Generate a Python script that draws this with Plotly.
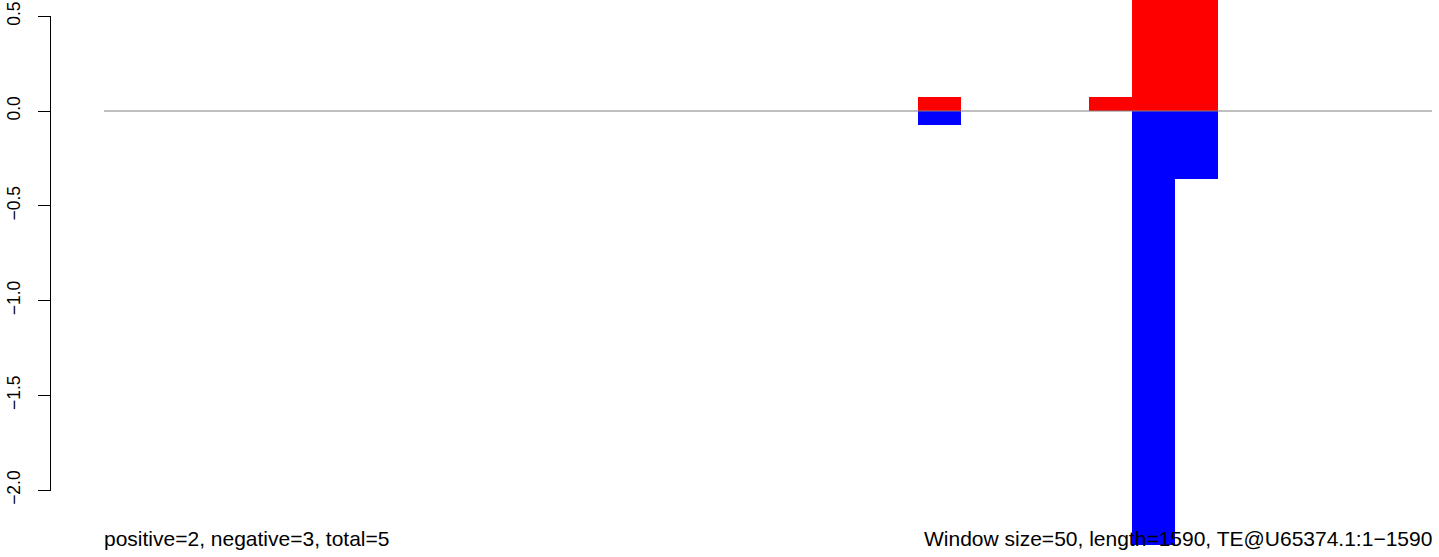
import plotly.graph_objects as go

# ---- data ----
window_size = 50
seq_length = 1590
n_full_windows = 31
window_starts = [950, 1150, 1200, 1250]
positive_vals = [0.074, 0.074, 0.60, 0.60]
negative_vals = [-0.075, 0.0, -2.30, -0.36]
ytick_vals = [-2.0, -1.5, -1.0, -0.5, 0.0, 0.5]
ytick_text = ["\u22122.0", "\u22121.5", "\u22121.0", "\u22120.5", "0.0", "0.5"]
left_note = "positive=2, negative=3, total=5"
right_note = "Window size=50, length=1590, TE@U65374.1:1\u22121590"

W, H = 1439, 557
PLOT_L, PLOT_R = 104, 1432
PLOT_B = 545
FONT = "Liberation Sans, Arial, sans-serif"

centers = [s + window_size / 2 for s in window_starts]

fig = go.Figure()
fig.add_trace(go.Bar(x=centers, y=positive_vals, width=[window_size] * len(centers),
                     marker=dict(color="#FF0000", line=dict(width=0)), showlegend=False,
                     hoverinfo="skip"))
fig.add_trace(go.Bar(x=centers, y=negative_vals, width=[window_size] * len(centers),
                     marker=dict(color="#0000FF", line=dict(width=0)), showlegend=False,
                     hoverinfo="skip"))

# y range from pixel geometry: 0 at ~111px, 189.6 px per unit, plot from 0 to 545 px
px_per_unit = 189.6
zero_px = 111
y_top = zero_px / px_per_unit
y_bot = -(PLOT_B - zero_px) / px_per_unit

fig.update_layout(
    width=W, height=H,
    margin=dict(l=0, r=0, t=0, b=H - PLOT_B, pad=0),
    plot_bgcolor="white", paper_bgcolor="white",
    barmode="overlay", bargap=0,
    showlegend=False,
    font=dict(family=FONT, color="black"),
    xaxis=dict(domain=[PLOT_L / W, PLOT_R / W], range=[0, n_full_windows * window_size],
               visible=False, showgrid=False, zeroline=False, fixedrange=True),
    yaxis=dict(range=[y_bot, y_top], anchor="free", position=50.5 / W,
               tickvals=ytick_vals, ticktext=ytick_text, tickangle=-90,
               ticks="outside", ticklen=13, tickwidth=1, tickcolor="black",
               ticklabelstandoff=11,
               tickfont=dict(family=FONT, size=17.5, color="black"),
               showline=False, showgrid=False, zeroline=False, automargin=False),
)

# axis line spanning tick range only (R style)
fig.add_shape(type="line", xref="paper", yref="y", x0=50.5 / W, x1=50.5 / W,
              y0=min(ytick_vals), y1=max(ytick_vals), line=dict(color="black", width=1))
# zero line across plot region
fig.add_shape(type="line", xref="paper", yref="y", x0=PLOT_L / W, x1=PLOT_R / W,
              y0=0, y1=0, line=dict(color="#808080", width=1.2), layer="above")

fig.add_annotation(text=left_note, xref="paper", yref="paper", x=PLOT_L / W, y=(PLOT_B - 538.5) / PLOT_B,
                   xanchor="left", yanchor="middle", showarrow=False, xshift=-2,
                   font=dict(family=FONT, size=21, color="black"))
fig.add_annotation(text=right_note, xref="paper", yref="paper", x=PLOT_R / W, y=(PLOT_B - 538.5) / PLOT_B,
                   xanchor="right", yanchor="middle", showarrow=False, xshift=2,
                   font=dict(family=FONT, size=21, color="black"))

fig.write_html("out.html", config={"displayModeBar": False},
               post_script="document.body.style.margin='0';document.body.style.overflow='hidden';")
